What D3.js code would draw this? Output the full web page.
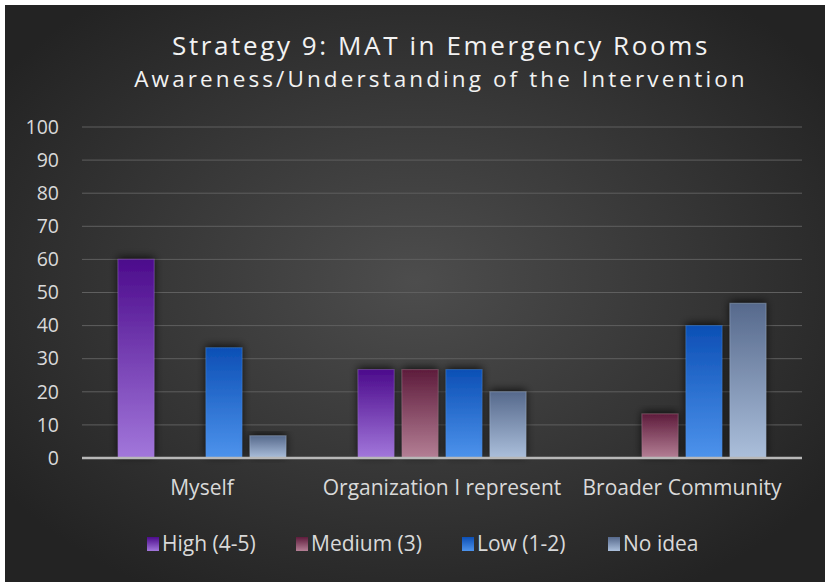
<!DOCTYPE html>
<html>
<head>
<meta charset="utf-8">
<script src="https://cdn.jsdelivr.net/npm/d3@7"></script>
<style>
  body { margin: 0; background: #fff; }
  svg { display: block; }
  text { font-family: "Open Sans", "Noto Sans", sans-serif; fill: #d9d9d9; }
</style>
</head>
<body>
<svg id="chart"></svg>
<script>
// data
let categories = ["Myself", "Organization I represent", "Broader Community"];
let seriesNames = ["High (4-5)", "Medium (3)", "Low (1-2)", "No idea"];
let high = [60, 26.7, 0];
let medium = [0, 26.7, 13.3];
let low = [33.3, 26.7, 40];
let noIdea = [6.7, 20, 46.7];
let yTicks = [0, 10, 20, 30, 40, 50, 60, 70, 80, 90, 100];

// colors (top, bottom of each bar gradient)
let gradStops = [
    ["#4c0b8c", "#a277db"],
    ["#5e1c3c", "#b47f95"],
    ["#0c4fb5", "#4d93ec"],
    ["#56698c", "#abbfdb"]
];

let width = 825, height = 582;
let margin = {top: 127, right: 23, bottom: 124, left: 82};

let svg = d3.select("#chart")
    .attr("width", width)
    .attr("height", height);

let defs = svg.append("defs");

let bg = defs.append("radialGradient")
    .attr("id", "bg")
    .attr("cx", "50%").attr("cy", "48%").attr("r", "62%");
bg.append("stop").attr("offset", "0%").attr("stop-color", "#4d4d4d");
bg.append("stop").attr("offset", "100%").attr("stop-color", "#232323");

gradStops.forEach(function(s, i) {
    let g = defs.append("linearGradient")
        .attr("id", "bar" + i)
        .attr("x1", 0).attr("y1", 0).attr("x2", 0).attr("y2", 1);
    g.append("stop").attr("offset", "0%").attr("stop-color", s[0]);
    g.append("stop").attr("offset", "100%").attr("stop-color", s[1]);
});

let shadow = defs.append("filter")
    .attr("id", "shadow")
    .attr("x", "-50%").attr("y", "-20%").attr("width", "200%").attr("height", "140%");
shadow.append("feDropShadow")
    .attr("dx", 0).attr("dy", -2)
    .attr("stdDeviation", 4)
    .attr("flood-color", "#000")
    .attr("flood-opacity", 0.75);

// background, white frame top/left like the source image
svg.append("rect")
    .attr("x", 5).attr("y", 5)
    .attr("width", width - 5).attr("height", height - 5)
    .attr("fill", "url(#bg)");

// titles
svg.append("text")
    .attr("x", 441).attr("y", 55)
    .attr("text-anchor", "middle")
    .style("font-size", "26px")
    .style("letter-spacing", "2.6px")
    .style("fill", "#f2f2f2")
    .text("Strategy 9: MAT in Emergency Rooms");

svg.append("text")
    .attr("x", 441).attr("y", 87)
    .attr("text-anchor", "middle")
    .style("font-size", "22.5px")
    .style("letter-spacing", "3.1px")
    .style("fill", "#f2f2f2")
    .text("Awareness/Understanding of the Intervention");

let plotW = width - margin.left - margin.right;
let plotH = height - margin.top - margin.bottom;

let plot = svg.append("g")
    .attr("transform", "translate(" + margin.left + "," + margin.top + ")");

let x0 = d3.scaleBand()
    .domain(categories)
    .range([0, plotW])
    .paddingInner(0)
    .paddingOuter(0);

let x1 = d3.scaleBand()
    .domain(seriesNames)
    .range([0, x0.bandwidth()])
    .paddingInner(0.18)
    .paddingOuter(0.82);

let y = d3.scaleLinear()
    .domain([0, 100])
    .range([plotH, 0]);

// gridlines
plot.append("g")
    .selectAll("line")
    .data(yTicks.slice(1))
    .join("line")
    .attr("x1", 0).attr("x2", plotW)
    .attr("y1", d => y(d)).attr("y2", d => y(d))
    .attr("stroke", "#5f5f5f")
    .attr("stroke-width", 1);

// y axis labels
let yAxis = plot.append("g")
    .call(d3.axisLeft(y).tickValues(yTicks).tickSize(0).tickPadding(23));
yAxis.select(".domain").remove();
yAxis.selectAll("text")
    .style("font-size", "19.5px")
    .style("fill", "#d9d9d9")
    .style("font-family", "'Open Sans', sans-serif");

// bars
let seriesValues = [high, medium, low, noIdea];
let rows = [];
categories.forEach(function(c, ci) {
    seriesNames.forEach(function(s, si) {
        rows.push({cat: c, series: s, si: si, value: seriesValues[si][ci]});
    });
});

plot.append("g")
    .selectAll("rect")
    .data(rows.filter(d => d.value > 0))
    .join("rect")
    .attr("x", d => x0(d.cat) + x1(d.series))
    .attr("y", d => y(d.value))
    .attr("width", x1.bandwidth())
    .attr("height", d => plotH - y(d.value))
    .attr("fill", d => "url(#bar" + d.si + ")")
    .attr("stroke", d => gradStops[d.si][1])
    .attr("stroke-opacity", 0.35)
    .attr("filter", "url(#shadow)");

// baseline
plot.append("line")
    .attr("x1", 0).attr("x2", plotW)
    .attr("y1", plotH).attr("y2", plotH)
    .attr("stroke", "#b8b8b8")
    .attr("stroke-width", 2.5);

// category labels
let xAxis = plot.append("g")
    .attr("transform", "translate(0," + plotH + ")")
    .call(d3.axisBottom(x0).tickSize(0).tickPadding(22));
xAxis.select(".domain").remove();
xAxis.selectAll("text")
    .style("font-size", "21px")
    .style("fill", "#d9d9d9")
    .style("font-family", "'Open Sans', sans-serif");

// legend
let legendX = [147, 296, 462, 608];
let legend = svg.append("g")
    .selectAll("g")
    .data(seriesNames)
    .join("g")
    .attr("transform", (d, i) => "translate(" + legendX[i] + ",537)");
legend.append("rect")
    .attr("width", 12).attr("height", 14)
    .attr("fill", (d, i) => "url(#bar" + i + ")");
legend.append("text")
    .attr("x", 15).attr("y", 14)
    .style("font-size", "21px")
    .text(d => d);
</script>
</body>
</html>
